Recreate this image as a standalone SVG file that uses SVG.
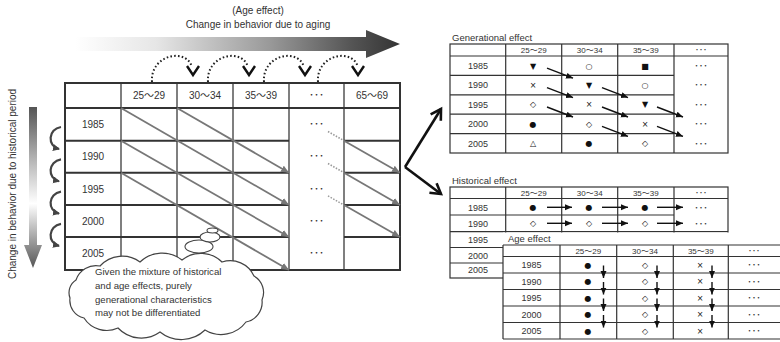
<svg xmlns="http://www.w3.org/2000/svg" width="780" height="342" viewBox="0 0 780 342">
<style>
.t{font-family:"Liberation Sans","Noto Sans CJK JP",sans-serif;fill:#333}
.m{font-size:10px;text-anchor:middle}
.s{font-size:9px;text-anchor:middle}
.h{font-size:8px;text-anchor:middle}
.ti{font-size:9.5px}
.sym{font-family:"DejaVu Sans",sans-serif;font-size:8px;text-anchor:middle;fill:#111}
.hl{stroke:#333;stroke-width:2;fill:none}
.vl{stroke:#555;stroke-width:1.5;fill:none}
.rg{stroke:#333;stroke-width:1.2;fill:none}
.diag{stroke:#777;stroke-width:1.8;fill:none}
.dot{stroke:#999;stroke-width:1.5;stroke-dasharray:1.5 1.5;fill:none}
.arc{stroke:#222;stroke-width:2;stroke-dasharray:1.6 2.2;fill:none}
.chev{stroke:#111;stroke-width:2.4;fill:none}
.ba{stroke:#111;stroke-width:1.4;fill:none;marker-end:url(#ab)}
.big{stroke:#111;stroke-width:2.6;fill:none;marker-end:url(#ao)}
.cur{stroke:#444;stroke-width:2.2;fill:none;marker-end:url(#ac)}
</style>
<defs>
<linearGradient id="gh" gradientUnits="userSpaceOnUse" x1="75" y1="0" x2="400" y2="0">
<stop offset="0" stop-color="#fff"/><stop offset="0.25" stop-color="#e6e6e6"/><stop offset="0.6" stop-color="#999"/><stop offset="0.85" stop-color="#555"/><stop offset="1" stop-color="#333"/>
</linearGradient>
<linearGradient id="gv" gradientUnits="userSpaceOnUse" x1="0" y1="107" x2="0" y2="268">
<stop offset="0" stop-color="#555"/><stop offset="0.35" stop-color="#bbb"/><stop offset="0.6" stop-color="#fff"/><stop offset="0.8" stop-color="#aaa"/><stop offset="1" stop-color="#555"/>
</linearGradient>
<marker id="ag" markerUnits="userSpaceOnUse" markerWidth="9" markerHeight="8" refX="8" refY="3.5" orient="auto"><path d="M0,0 L8,3.5 L0,7 z" fill="#777"/></marker>
<marker id="ab" markerUnits="userSpaceOnUse" markerWidth="8" markerHeight="7" refX="7" refY="3" orient="auto"><path d="M0,0 L7,3 L0,6 z" fill="#111"/></marker>
<marker id="ac" markerUnits="userSpaceOnUse" markerWidth="8" markerHeight="8" refX="6" refY="3.5" orient="auto"><path d="M0,0 L7,3.5 L0,7 z" fill="#444"/></marker>
<marker id="ao" markerUnits="userSpaceOnUse" markerWidth="14" markerHeight="14" refX="10" refY="6" orient="auto" overflow="visible"><path d="M0,0 L10,6 L0,12" stroke="#111" stroke-width="2.6" fill="none"/></marker>
</defs>
<rect width="780" height="342" fill="#fff"/>

<g id="age-arrow">
<text class="t m" x="258" y="14">(Age effect)</text>
<text class="t m" x="258" y="28">Change in behavior due to aging</text>
<path d="M75,37 L366,37 L366,30 L400,44 L366,58 L366,51 L75,51 z" fill="url(#gh)"/>
</g>

<g id="period-arrow">
<path d="M29,107 L37,107 L37,245 L42,245 L33,268 L24,245 L29,245 z" fill="url(#gv)"/>
<text class="t" font-size="10" text-anchor="middle" transform="translate(15.5,184) rotate(-90)">Change in behavior  due to historical period</text>
</g>

<g id="main-table">
<rect x="65" y="83" width="335" height="187" fill="#fff" stroke="none"/>
<g class="vl">
<line x1="121" y1="83" x2="121" y2="270"/><line x1="177" y1="83" x2="177" y2="270"/>
<line x1="233" y1="83" x2="233" y2="270"/><line x1="289" y1="83" x2="289" y2="270"/>
<line x1="344" y1="83" x2="344" y2="270"/>
</g>
<g class="hl">
<rect x="65" y="83" width="335" height="187"/>
<line x1="65" y1="108" x2="400" y2="108"/>
<path d="M65,140.7 H289 M344,140.7 H400 M65,172.7 H289 M344,172.7 H400 M65,205 H289 M344,205 H400 M65,237 H289 M344,237 H400"/>
</g>
<g class="t m">
<text x="149" y="99">25～29</text><text x="205" y="99">30～34</text><text x="261" y="99">35～39</text>
<text x="316.5" y="99">･･･</text><text x="372" y="99">65～69</text>
<text x="93" y="128">1985</text><text x="93" y="160">1990</text><text x="93" y="192.5">1995</text>
<text x="93" y="224.5">2000</text><text x="93" y="257">2005</text>
<text x="316.5" y="128">･･･</text><text x="316.5" y="160">･･･</text><text x="316.5" y="192.5">･･･</text>
<text x="316.5" y="224.5">･･･</text><text x="316.5" y="257">･･･</text>
</g>
</g>

<g id="connectors">
<g class="diag" marker-end="url(#ag)">
<line x1="121" y1="108" x2="289" y2="205"/>
<line x1="177" y1="108" x2="289" y2="172.7"/>
<line x1="121" y1="140.7" x2="289" y2="237"/>
<line x1="121" y1="172.7" x2="289" y2="270"/>
<line x1="344" y1="140.7" x2="400" y2="172.7"/>
<line x1="344" y1="172.7" x2="400" y2="205"/>
<line x1="344" y1="205" x2="400" y2="237"/>
</g>
<g class="dot">
<line x1="328" y1="131.5" x2="344" y2="140.7"/>
<line x1="328" y1="163.5" x2="344" y2="172.7"/>
<line x1="328" y1="195.8" x2="344" y2="205"/>
</g>
<g id="aging-arcs">
<path class="arc" d="M152,82 C150,55 186,47 192,67"/>
<path class="arc" d="M208,82 C206,55 242,47 248,67"/>
<path class="arc" d="M264,82 C262,55 298,47 304,67"/>
<path class="arc" d="M318,82 C316,55 352,47 358,67"/>
<polyline class="chev" points="187,66 193,75 199,66"/>
<polyline class="chev" points="243,66 249,75 255,66"/>
<polyline class="chev" points="299,66 305,75 311,66"/>
<polyline class="chev" points="352,66 358,75 364,66"/>
</g>
<g id="period-curves">
<path class="cur" d="M61,127 C48,129 47,146 59,149"/>
<path class="cur" d="M61,159.3 C48,161.3 47,178.3 59,181.3"/>
<path class="cur" d="M61,191.6 C48,193.6 47,210.6 59,213.6"/>
<path class="cur" d="M61,223.9 C48,225.9 47,242.9 59,245.9"/>
</g>
<path class="big" d="M405,167 L441,109"/>
<path class="big" d="M405,167 L441,194"/>
</g>

<g id="cloud">
<path d="M76,280 A21,21 0 0 1 100,266 A30,30 0 0 1 140,262 A32,32 0 0 1 182,260 A30,30 0 0 1 222,262 A26,26 0 0 1 254,276 A19,19 0 0 1 262,300 A20,20 0 0 1 246,322 A31,31 0 0 1 205,330 A34,34 0 0 1 160,332 A32,32 0 0 1 118,328 A27,27 0 0 1 84,318 A18,18 0 0 1 70,298 A15,15 0 0 1 76,280 z" fill="#fff" stroke="#444" stroke-width="1.2"/>
<ellipse cx="199" cy="246.5" rx="14" ry="6.5" fill="#fff" stroke="#444" stroke-width="1.1"/>
<ellipse cx="210" cy="237" rx="10" ry="5" fill="#fff" stroke="#444" stroke-width="1.1"/>
<ellipse cx="212.5" cy="230.5" rx="5.5" ry="2.5" fill="#fff" stroke="#444" stroke-width="1.1"/>
<g class="t" font-size="9.6">
<text x="95" y="275">Given the mixture of historical</text>
<text x="95" y="289">and age effects, purely</text>
<text x="95" y="303">generational characteristics</text>
<text x="95" y="316">may not be differentiated</text>
</g>
</g>

<g id="gen-table">
<text class="t ti" x="452" y="41">Generational effect</text>
<g class="rg">
<rect x="450" y="44" width="278" height="109"/>
<line x1="450" y1="56" x2="728" y2="56"/>
<path d="M450,75.4 H674 M450,94.8 H674 M450,114.2 H674 M450,133.6 H674"/>
<path d="M505.7,44 V153 M561.7,44 V153 M617.7,44 V153 M674,44 V153"/>
</g>
<g class="t h">
<text x="533.7" y="53">25～29</text><text x="589.7" y="53">30～34</text><text x="645.8" y="53">35～39</text><text x="701" y="53">･･･</text>
</g>
<g class="t s">
<text x="478" y="69">1985</text><text x="478" y="88.4">1990</text><text x="478" y="107.8">1995</text><text x="478" y="127.2">2000</text><text x="478" y="146.6">2005</text>
<text x="701" y="69">･･･</text><text x="701" y="88.4">･･･</text><text x="701" y="107.8">･･･</text><text x="701" y="127.2">･･･</text><text x="701" y="146.6">･･･</text>
</g>
<g class="sym">
<text x="533" y="68.5">▼</text><text x="589" y="68.5">○</text><text x="645" y="68.5">■</text>
<text x="533" y="88">×</text><text x="589" y="88">▼</text><text x="645" y="88">○</text>
<text x="533" y="107.4">◇</text><text x="589" y="107.4">×</text><text x="645" y="107.4">▼</text>
<text x="533" y="126.8">●</text><text x="589" y="126.8">◇</text><text x="645" y="126.8">×</text>
<text x="533" y="146.2">△</text><text x="589" y="146.2">●</text><text x="645" y="146.2">◇</text>
</g>
<g>
<line class="ba" x1="547" y1="68.2" x2="573" y2="78.2"/>
<line class="ba" x1="547" y1="87.6" x2="573" y2="97.6"/>
<line class="ba" x1="547" y1="107" x2="573" y2="117"/>
<line class="ba" x1="602" y1="87.6" x2="628" y2="97.6"/>
<line class="ba" x1="602" y1="107" x2="628" y2="117"/>
<line class="ba" x1="602" y1="126.4" x2="628" y2="136.4"/>
<line class="ba" x1="657" y1="107" x2="683" y2="117"/>
<line class="ba" x1="657" y1="126.4" x2="683" y2="136.4"/>
</g>
</g>

<g id="hist-table">
<text class="t ti" x="452" y="183.5">Historical effect</text>
<g class="rg">
<rect x="450" y="187" width="278" height="91"/>
<line x1="450" y1="198.5" x2="728" y2="198.5"/>
<path d="M450,215 H674 M450,231.7 H728 M450,247.5 H728 M450,263 H728"/>
<path d="M505.7,187 V278 M561.7,187 V278 M617.7,187 V278 M674,187 V278"/>
</g>
<g class="t h">
<text x="533.7" y="195.5">25～29</text><text x="589.7" y="195.5">30～34</text><text x="645.8" y="195.5">35～39</text><text x="701" y="195.5">･･･</text>
</g>
<g class="t s">
<text x="478" y="210.5">1985</text><text x="478" y="226.5">1990</text><text x="478" y="243">1995</text><text x="478" y="258.5">2000</text><text x="478" y="273">2005</text>
<text x="701" y="210.5">･･･</text><text x="701" y="226.5">･･･</text>
</g>
<g class="sym">
<text x="533" y="210">●</text><text x="589" y="210">●</text><text x="645" y="210">●</text>
<text x="533" y="226">◇</text><text x="589" y="226">◇</text><text x="645" y="226">◇</text>
</g>
<g>
<line class="ba" x1="547" y1="207.3" x2="572" y2="207.3"/>
<line class="ba" x1="602" y1="207.3" x2="628" y2="207.3"/>
<line class="ba" x1="657" y1="207.3" x2="683" y2="207.3"/>
<line class="ba" x1="547" y1="223.3" x2="572" y2="223.3"/>
<line class="ba" x1="602" y1="223.3" x2="628" y2="223.3"/>
<line class="ba" x1="657" y1="223.3" x2="683" y2="223.3"/>
</g>
</g>

<g id="age-table">
<rect x="503" y="232.5" width="277" height="110" fill="#fff"/>
<text class="t ti" x="508" y="242">Age effect</text>
<g class="rg">
<path d="M503,245 H780 M503,256.5 H780 M503,273 H780 M503,289.5 H780 M503,306 H780 M503,322.5 H780 M503,339 H780"/>
<path d="M503,245 V339 M560,245 V339 M616.7,245 V339 M673.3,245 V339 M728.3,245 V339"/>
</g>
<g class="t h">
<text x="588.3" y="253.5">25～29</text><text x="645" y="253.5">30～34</text><text x="700.8" y="253.5">35～39</text><text x="754" y="253.5">･･･</text>
</g>
<g class="t s">
<text x="531.5" y="268">1985</text><text x="531.5" y="284.5">1990</text><text x="531.5" y="301">1995</text><text x="531.5" y="317.5">2000</text><text x="531.5" y="334">2005</text>
<text x="754" y="268">･･･</text><text x="754" y="284.5">･･･</text><text x="754" y="301">･･･</text><text x="754" y="317.5">･･･</text><text x="754" y="334">･･･</text>
</g>
<g class="sym">
<text x="588" y="267.5">●</text><text x="645" y="267.5">◇</text><text x="700" y="267.5">×</text>
<text x="588" y="284">●</text><text x="645" y="284">◇</text><text x="700" y="284">×</text>
<text x="588" y="300.5">●</text><text x="645" y="300.5">◇</text><text x="700" y="300.5">×</text>
<text x="588" y="317">●</text><text x="645" y="317">◇</text><text x="700" y="317">×</text>
<text x="588" y="333.5">●</text><text x="645" y="333.5">◇</text><text x="700" y="333.5">×</text>
</g>
<g>
<line class="ba" x1="603.5" y1="265.5" x2="603.5" y2="278"/>
<line class="ba" x1="657" y1="265.5" x2="657" y2="278"/>
<line class="ba" x1="712" y1="265.5" x2="712" y2="278"/>
<line class="ba" x1="603.5" y1="282" x2="603.5" y2="294.5"/>
<line class="ba" x1="657" y1="282" x2="657" y2="294.5"/>
<line class="ba" x1="712" y1="282" x2="712" y2="294.5"/>
<line class="ba" x1="603.5" y1="298.5" x2="603.5" y2="311"/>
<line class="ba" x1="657" y1="298.5" x2="657" y2="311"/>
<line class="ba" x1="712" y1="298.5" x2="712" y2="311"/>
<line class="ba" x1="603.5" y1="315" x2="603.5" y2="327.5"/>
<line class="ba" x1="657" y1="315" x2="657" y2="327.5"/>
<line class="ba" x1="712" y1="315" x2="712" y2="327.5"/>
</g>
</g>
</svg>
